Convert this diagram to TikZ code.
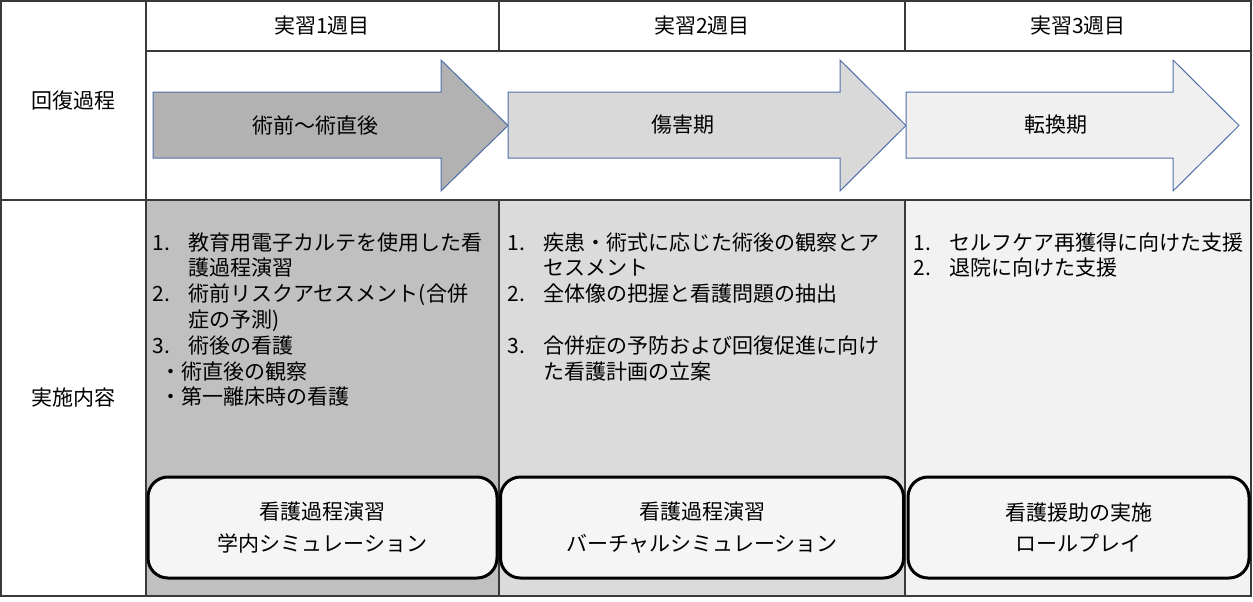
\documentclass[tikz,border=0pt]{standalone}
\usepackage{fontspec}
\setmainfont{Noto Sans CJK JP}
\definecolor{gridline}{HTML}{3A3A3A}
\definecolor{arrowline}{HTML}{4F6FA8}
\definecolor{arrA}{HTML}{B2B2B2}
\definecolor{arrB}{HTML}{D9D9D9}
\definecolor{arrC}{HTML}{F0F0F0}
\definecolor{colA}{HTML}{C0C0C0}
\definecolor{colB}{HTML}{DBDBDB}
\definecolor{colC}{HTML}{F2F2F2}
\definecolor{cardfill}{HTML}{F5F5F5}
\newcommand\nitem[2]{\makebox[18pt][l]{#1}#2}
\newcommand\hangon{\hspace*{18pt}}
\begin{document}
\begin{tikzpicture}[x=0.5pt,y=-0.5pt,
   every node/.style={font=\fontsize{10.5}{12.9}\selectfont, inner sep=0pt},
   grid/.style={draw=gridline, line width=0.7pt},
   phase/.style={draw=arrowline, line width=0.5pt},
   card/.style={draw, line width=1.5pt, rounded corners=10pt, fill=cardfill,
                align=center, minimum height=50.5pt},
   items/.style={anchor=north west, align=left}]

\useasboundingbox (0,0) rectangle (1253,601);

\fill[colA] (146,200) rectangle (499,596);
\fill[colB] (499,200) rectangle (905,596);
\fill[colC] (905,200) rectangle (1251,596);

\draw[grid] (1,1) rectangle (1251,596);
\draw[grid] (146,51) -- (1251,51);
\draw[grid] (1,200) -- (1251,200);
\draw[grid] (146,1) -- (146,596);
\foreach \x in {499,905} {
  \draw[grid] (\x,1) -- (\x,51);
  \draw[grid] (\x,200) -- (\x,596);
}

\node (rec) at (74,101) {回復過程};
\node (act) at (74,398) {実施内容};

\node (wk1) at (322,26) {実習1週目};
\node (wk2) at (702,26) {実習2週目};
\node (wk3) at (1078,26) {実習3週目};

\foreach \xa/\xb/\xc/\col in {153/441/508/arrA, 508/840/906/arrB, 906/1173/1239/arrC}
  \draw[phase, fill=\col] (\xa,92) -- (\xb,92) -- (\xb,60) -- (\xc,125.5)
     -- (\xb,191) -- (\xb,158) -- (\xa,158) -- cycle;

\node (stg1) at (315,125) {術前〜術直後};
\node (stg2) at (683,125) {傷害期};
\node (stg3) at (1056,125) {転換期};

\node[items] (task1) at (152,232) {\nitem{1.}{教育用電子カルテを使用した看}\\
  \hangon 護過程演習\\
  \nitem{2.}{術前リスクアセスメント(合併}\\
  \hangon 症の予測)\\
  \nitem{3.}{術後の看護}\\
  \hspace*{4pt}・術直後の観察\\
  \hspace*{4pt}・第一離床時の看護};
\node[items] (task2) at (507,232) {\nitem{1.}{疾患・術式に応じた術後の観察とア}\\
  \hangon セスメント\\
  \nitem{2.}{全体像の把握と看護問題の抽出}\\[12.9pt]
  \nitem{3.}{合併症の予防および回復促進に向け}\\
  \hangon た看護計画の立案};
\node[items] (task3) at (913,232) {\nitem{1.}{セルフケア再獲得に向けた支援}\\
  \nitem{2.}{退院に向けた支援}};

\node[card, minimum width=174.5pt] (sim1) at (322.5,527.5) {看護過程演習\\[3pt]学内シミュレーション};
\node[card, minimum width=201.5pt] (sim2) at (702,527.5) {看護過程演習\\[3pt]バーチャルシミュレーション};
\node[card, minimum width=170.5pt] (sim3) at (1078.5,527.5) {看護援助の実施\\[3pt]ロールプレイ};

\end{tikzpicture}
\end{document}
